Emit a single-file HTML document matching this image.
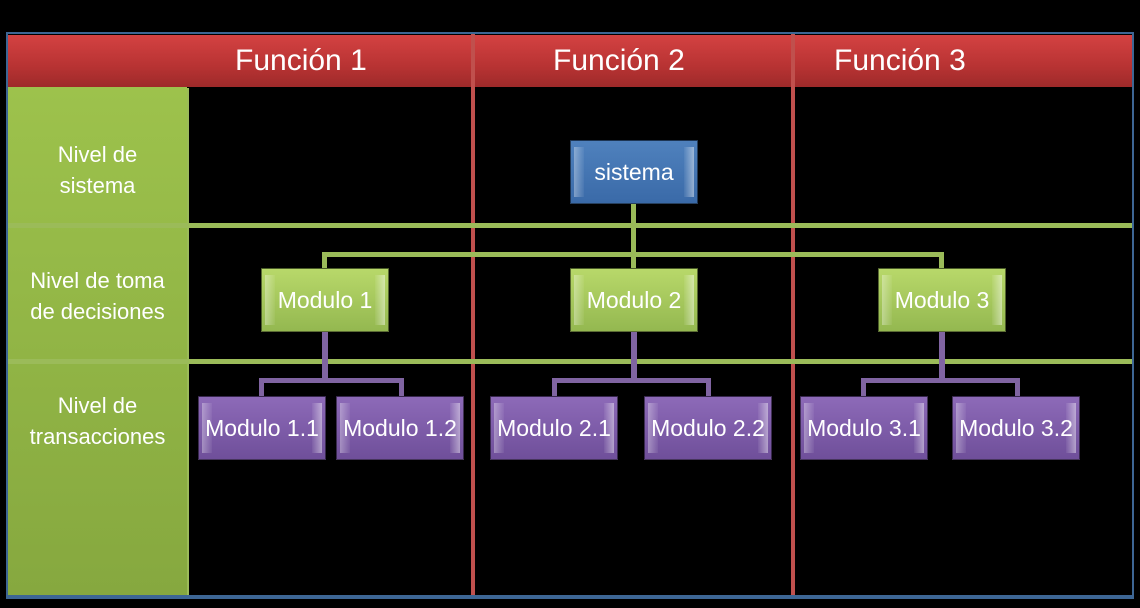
<!DOCTYPE html>
<html><head><meta charset="utf-8"><style>
body{margin:0;width:1140px;height:608px;background:#000;position:relative;overflow:hidden;font-family:"Liberation Sans",sans-serif;}
div{position:absolute;box-sizing:border-box;}
.hdr{left:8px;top:35px;width:1124px;height:52px;background:linear-gradient(#d44242,#b83333 60%,#9e2a2a);}
.ht{top:44px;color:#fff;font-size:30px;}
.lab{left:8px;width:179px;color:#fff;font-size:22px;text-align:center;line-height:31px;white-space:nowrap;}
.gl{background:#9bbb59;}
.rl{background:#c0504d;width:4px;top:34px;height:564px;}
.bx{width:128px;height:64px;color:#fff;font-size:23px;text-align:center;line-height:62px;border:1px solid rgba(0,0,0,.5);white-space:nowrap;}
.bx span{position:relative;z-index:2;}
.b{background:linear-gradient(#4f81bd,#3a6aa8);}
.g{background:linear-gradient(#b8d86a,#94b850);}
.p{background:linear-gradient(#8d6ab8,#6f4f9a);}
.bx:before,.bx:after{content:"";position:absolute;top:6px;bottom:6px;width:10px;}
.bx:before{left:3px;background:linear-gradient(90deg,rgba(255,255,255,.35),rgba(255,255,255,.05));}
.bx:after{right:3px;background:linear-gradient(90deg,rgba(255,255,255,.05),rgba(255,255,255,.45));}
.gc{background:#9bbb59;}
.pc{background:#8064a2;}
.p span{display:inline-block;margin-left:-10px;margin-right:-10px;}
</style></head><body>
<div style="left:6px;top:32px;width:1128px;height:567px;border:2px solid #3d6694;"></div>
<div class="hdr"></div>
<div class="ht" style="left:235px">Función 1</div>
<div class="ht" style="left:553px">Función 2</div>
<div class="ht" style="left:834px">Función 3</div>
<div class="gl" style="left:8px;top:87px;width:179px;height:509px;background:linear-gradient(#9dc24c,#86a83f);"></div>
<div class="lab" style="top:139px">Nivel de<br>sistema</div>
<div class="lab" style="top:265px">Nivel de toma<br>de decisiones</div>
<div class="lab" style="top:390px">Nivel de<br>transacciones</div>
<div class="gl" style="left:187px;top:88px;width:2px;height:508px"></div>
<div class="rl" style="left:471px"></div>
<div class="rl" style="left:791px"></div>
<div class="gl" style="left:8px;top:223px;width:1124px;height:5px"></div>
<div class="gl" style="left:8px;top:359px;width:1124px;height:5px"></div>
<div style="left:8px;top:595px;width:1126px;height:3px;background:#3d6694"></div>
<div class="gc" style="left:631px;top:204px;width:5px;height:64px"></div>
<div class="gc" style="left:322px;top:252px;width:622px;height:5px"></div>
<div class="gc" style="left:322px;top:252px;width:5px;height:16px"></div>
<div class="gc" style="left:939px;top:252px;width:5px;height:16px"></div>
<div class="pc" style="left:322px;top:332px;width:6px;height:50px"></div>
<div class="pc" style="left:259px;top:378px;width:145px;height:5px"></div>
<div class="pc" style="left:259px;top:378px;width:5px;height:18px"></div>
<div class="pc" style="left:399px;top:378px;width:5px;height:18px"></div>
<div class="pc" style="left:631px;top:332px;width:6px;height:50px"></div>
<div class="pc" style="left:552px;top:378px;width:159px;height:5px"></div>
<div class="pc" style="left:552px;top:378px;width:5px;height:18px"></div>
<div class="pc" style="left:706px;top:378px;width:5px;height:18px"></div>
<div class="pc" style="left:939px;top:332px;width:6px;height:50px"></div>
<div class="pc" style="left:861px;top:378px;width:159px;height:5px"></div>
<div class="pc" style="left:861px;top:378px;width:5px;height:18px"></div>
<div class="pc" style="left:1015px;top:378px;width:5px;height:18px"></div>
<div class="bx b" style="left:570px;top:140px"><span>sistema</span></div>
<div class="bx g" style="left:261px;top:268px"><span>Modulo 1</span></div>
<div class="bx g" style="left:570px;top:268px"><span>Modulo 2</span></div>
<div class="bx g" style="left:878px;top:268px"><span>Modulo 3</span></div>
<div class="bx p" style="left:198px;top:396px"><span>Modulo 1.1</span></div>
<div class="bx p" style="left:336px;top:396px"><span>Modulo 1.2</span></div>
<div class="bx p" style="left:490px;top:396px"><span>Modulo 2.1</span></div>
<div class="bx p" style="left:644px;top:396px"><span>Modulo 2.2</span></div>
<div class="bx p" style="left:800px;top:396px"><span>Modulo 3.1</span></div>
<div class="bx p" style="left:952px;top:396px"><span>Modulo 3.2</span></div>
</body></html>
